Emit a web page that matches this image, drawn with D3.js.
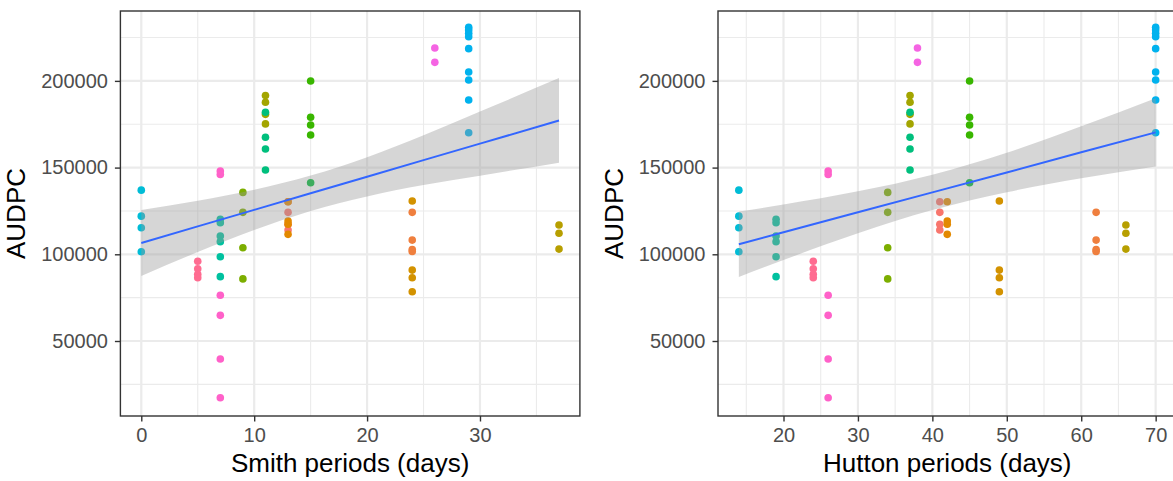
<!DOCTYPE html>
<html>
<head>
<meta charset="utf-8">
<script src="https://cdn.jsdelivr.net/npm/d3@7"></script>
<style>
  body { margin: 0; background: #fff; }
  svg { display: block; font-family: "Liberation Sans", Arial, sans-serif; }
</style>
</head>
<body>
<div id="chart"></div>
<script>
// one entry per plotted group (same colour in both panels)
const groupColors = ['#00BCD6', '#FF6C91', '#FF61C9', '#00C19F', '#7CAE00', '#A3A500', '#00BF7D', '#F8766D',
                     '#E38900', '#39B600', '#00BA38', '#D39200', '#EF7F3E', '#F564E3', '#00B2EE', '#B79F00'];
const smithDays  = [0, 5, 7, 7, 9, 11, 11, 13, 13, 15, 15, 24, 24, 26, 29, 37];
const huttonDays = [14, 24, 26, 19, 34, 37, 37, 41, 42, 45, 45, 49, 62, 38, 70, 66];
const audpc = [
  [137000, 122000, 115300, 101500],
  [96000, 91700, 88500, 86500],
  [148000, 146000, 76400, 64800, 39600, 17300],
  [120200, 118200, 110500, 107300, 98600, 87100],
  [135700, 124200, 103800, 85800],
  [191500, 187700, 180700, 175200],
  [181900, 167500, 160700, 148600],
  [130300, 124200, 117300, 114000],
  [130300, 119200, 117300, 111500],
  [199900, 179000, 174600, 168800],
  [141300],
  [130700, 90900, 86500, 78400],
  [124200, 108200, 102800, 101600],
  [219000, 210700],
  [230900, 229400, 227400, 225500, 218600, 205100, 200500, 189000, 170100],
  [116900, 112100, 103000]
];

const yLimits = [6750, 240300];
const yTicks = [50000, 100000, 150000, 200000];
const yMinor = [25000, 75000, 125000, 175000, 225000];
const smithTicks = [0, 10, 20, 30];
const smithMinor = [5, 15, 25, 35];
const huttonTicks = [20, 30, 40, 50, 60, 70];
const huttonMinor = [15, 25, 35, 45, 55, 65];

// lm fit and its 95% band
const smithFitX  = [0, 5, 10, 15, 20, 25, 30, 37];
const smithFitY  = [106500, 116100, 125600, 135200, 144700, 154300, 163800, 177200];
const smithLower = [87500, 101300, 114000, 125000, 133400, 139900, 145300, 152800];
const smithUpper = [125500, 130900, 137200, 145400, 156000, 168700, 182300, 201600];
const huttonFitX  = [14, 20, 30, 40, 50, 60, 70];
const huttonFitY  = [105800, 112700, 124200, 135700, 147200, 158800, 170300];
const huttonLower = [86950, 96700, 112100, 125500, 135800, 143800, 150600];
const huttonUpper = [124650, 128700, 136300, 145900, 158600, 173800, 190000];

const W = 1173, H = 481;
const svg = d3.select('#chart').append('svg').attr('width', W).attr('height', H);
svg.append('rect').attr('width', W).attr('height', H).attr('fill', '#fff');

const panelTop = 11, panelBottom = 416;
const y = d3.scaleLinear().domain(yLimits).range([panelBottom, panelTop]);

function panel(opt) {
  const days = opt.days;
  const all = days.flatMap((d, i) => audpc[i].map(() => d));
  const ext = d3.extent(all), pad = (ext[1] - ext[0]) * 0.05;
  const x = d3.scaleLinear().domain([ext[0] - pad, ext[1] + pad]).range([opt.left, opt.right]);
  const g = svg.append('g');
  const clip = 'clip' + Math.round(opt.left);
  svg.append('clipPath').attr('id', clip).append('rect')
    .attr('x', opt.left).attr('y', panelTop).attr('width', opt.right - opt.left).attr('height', panelBottom - panelTop);
  const inner = g.append('g').attr('clip-path', `url(#${clip})`);

  // grid
  yMinor.forEach(v => inner.append('line').attr('x1', opt.left).attr('x2', opt.right)
    .attr('y1', y(v)).attr('y2', y(v)).attr('stroke', '#EBEBEB').attr('stroke-width', 1.1));
  opt.minor.forEach(v => inner.append('line').attr('x1', x(v)).attr('x2', x(v))
    .attr('y1', panelTop).attr('y2', panelBottom).attr('stroke', '#EBEBEB').attr('stroke-width', 1.1));
  yTicks.forEach(v => inner.append('line').attr('x1', opt.left).attr('x2', opt.right)
    .attr('y1', y(v)).attr('y2', y(v)).attr('stroke', '#EBEBEB').attr('stroke-width', 2.2));
  opt.ticks.forEach(v => inner.append('line').attr('x1', x(v)).attr('x2', x(v))
    .attr('y1', panelTop).attr('y2', panelBottom).attr('stroke', '#EBEBEB').attr('stroke-width', 2.2));

  // points
  audpc.forEach((vals, i) => {
    inner.selectAll(null).data(vals).enter().append('circle')
      .attr('cx', x(days[i])).attr('cy', d => y(d)).attr('r', 3.8).attr('fill', groupColors[i]);
  });

  // confidence band over the points, then the line
  const band = opt.fitX.map((d, i) => ({ x: d, lo: opt.lower[i], hi: opt.upper[i], f: opt.fitY[i] }));
  inner.append('path').datum(band)
    .attr('d', d3.area().x(d => x(d.x)).y0(d => y(d.lo)).y1(d => y(d.hi)).curve(d3.curveMonotoneX))
    .attr('fill', '#999999').attr('fill-opacity', 0.4);
  inner.append('path').datum(band)
    .attr('d', d3.line().x(d => x(d.x)).y(d => y(d.f)))
    .attr('fill', 'none').attr('stroke', '#3366FF').attr('stroke-width', 2);

  // border
  g.append('rect').attr('x', opt.left).attr('y', panelTop).attr('width', opt.right - opt.left)
    .attr('height', panelBottom - panelTop).attr('fill', 'none').attr('stroke', '#333333').attr('stroke-width', 1.4);

  // axes
  const ya = g.append('g').attr('transform', `translate(${opt.left},0)`)
    .call(d3.axisLeft(y).tickValues(yTicks).tickSize(5.5).tickPadding(7).tickFormat(d3.format('d')));
  const xa = g.append('g').attr('transform', `translate(0,${panelBottom})`)
    .call(d3.axisBottom(x).tickValues(opt.ticks).tickSize(5.5).tickPadding(6).tickFormat(d3.format('d')));
  [ya, xa].forEach(a => {
    a.select('.domain').remove();
    a.selectAll('line').attr('stroke', '#333333').attr('stroke-width', 1.4);
    a.selectAll('text').attr('fill', '#4D4D4D').attr('font-size', 20)
      .attr('font-family', '"Liberation Sans", Arial, sans-serif');
  });

  g.append('text').attr('x', (opt.left + opt.right) / 2).attr('y', 472)
    .attr('text-anchor', 'middle').attr('font-size', 26).attr('fill', '#000').text(opt.title);
  g.append('text').attr('transform', `translate(${opt.left - 95},${(panelTop + panelBottom) / 2}) rotate(-90)`)
    .attr('text-anchor', 'middle').attr('font-size', 26).attr('fill', '#000').text('AUDPC');
}

panel({ left: 120.4, right: 579.9, days: smithDays, ticks: smithTicks, minor: smithMinor,
        fitX: smithFitX, fitY: smithFitY, lower: smithLower, upper: smithUpper, title: 'Smith periods (days)' });
panel({ left: 718, right: 1176.5, days: huttonDays, ticks: huttonTicks, minor: huttonMinor,
        fitX: huttonFitX, fitY: huttonFitY, lower: huttonLower, upper: huttonUpper, title: 'Hutton periods (days)' });
</script>
</body>
</html>
